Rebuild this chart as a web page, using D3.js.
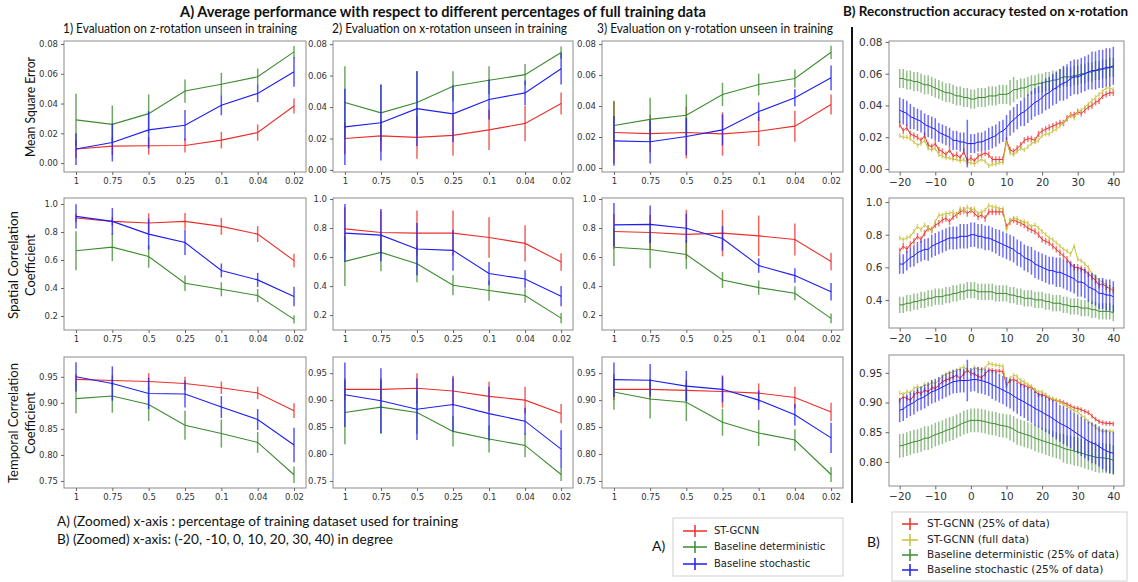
<!DOCTYPE html>
<html>
<head>
<meta charset="utf-8">
<script src="https://cdn.jsdelivr.net/npm/d3@7"></script>
<style>
	body { margin: 0; background: #fff; }
	svg { display: block; }
	.tick text { fill: #333; }
</style>
</head>
<body>
<div id="chart"></div>
<script>
// ---------- A) performance vs. fraction of training data ----------
const fractions = ['1', '0.75', '0.5', '0.25', '0.1', '0.04', '0.02']

// Mean square error
const mseZ_st = [0.0094, 0.0114, 0.0116, 0.0118, 0.0154, 0.0205, 0.0383]
const mseZ_stErr = [0.006, 0.006, 0.006, 0.0047, 0.0056, 0.0055, 0.005]
const mseZ_det = [0.029, 0.026, 0.0332, 0.0484, 0.053, 0.058, 0.0747]
const mseZ_detErr = [0.0176, 0.0127, 0.0129, 0.0078, 0.0076, 0.0055, 0.0039]
const mseZ_sto = [0.0094, 0.0138, 0.0223, 0.0254, 0.0388, 0.0468, 0.0613]
const mseZ_stoErr = [0.0107, 0.0127, 0.0125, 0.0103, 0.0067, 0.0059, 0.01]

const mseX_st = [0.02, 0.0217, 0.0207, 0.022, 0.0255, 0.0296, 0.0422]
const mseX_stErr = [0.01, 0.01, 0.0135, 0.013, 0.0128, 0.0113, 0.007]
const mseX_det = [0.0429, 0.0363, 0.0429, 0.0532, 0.057, 0.0606, 0.0747]
const mseX_detErr = [0.023, 0.0184, 0.02, 0.0095, 0.0089, 0.0067, 0.0038]
const mseX_sto = [0.0274, 0.03, 0.039, 0.0357, 0.0448, 0.049, 0.0644]
const mseX_stoErr = [0.0243, 0.024, 0.0237, 0.018, 0.0127, 0.0079, 0.01]

const mseY_st = [0.0229, 0.0222, 0.0229, 0.022, 0.0237, 0.027, 0.041]
const mseY_stErr = [0.02, 0.012, 0.0167, 0.014, 0.0095, 0.01, 0.0064]
const mseY_det = [0.0274, 0.0314, 0.034, 0.0475, 0.0539, 0.0578, 0.0747]
const mseY_detErr = [0.016, 0.014, 0.0135, 0.0075, 0.007, 0.0058, 0.0043]
const mseY_sto = [0.0175, 0.0169, 0.0203, 0.0246, 0.0364, 0.0453, 0.0582]
const mseY_stoErr = [0.016, 0.014, 0.012, 0.01, 0.006, 0.0055, 0.008]

// Spatial correlation coefficient
const scZ_st = [0.9, 0.876, 0.864, 0.876, 0.84, 0.785, 0.596]
const scZ_stErr = [0.03, 0.03, 0.07, 0.06, 0.06, 0.057, 0.048]
const scZ_det = [0.666, 0.692, 0.625, 0.434, 0.391, 0.346, 0.176]
const scZ_detErr = [0.14, 0.1, 0.08, 0.056, 0.05, 0.047, 0.03]
const scZ_sto = [0.912, 0.876, 0.785, 0.725, 0.525, 0.458, 0.339]
const scZ_stoErr = [0.086, 0.095, 0.11, 0.09, 0.05, 0.05, 0.07]

const scX_st = [0.794, 0.769, 0.765, 0.765, 0.735, 0.694, 0.566]
const scX_stErr = [0.15, 0.15, 0.155, 0.155, 0.14, 0.125, 0.06]
const scX_det = [0.57, 0.632, 0.554, 0.406, 0.369, 0.335, 0.179]
const scX_detErr = [0.17, 0.13, 0.128, 0.07, 0.07, 0.05, 0.035]
const scX_sto = [0.765, 0.751, 0.655, 0.646, 0.486, 0.449, 0.33]
const scX_stoErr = [0.2, 0.18, 0.18, 0.14, 0.08, 0.06, 0.07]

const scY_st = [0.776, 0.769, 0.756, 0.765, 0.746, 0.721, 0.569]
const scY_stErr = [0.12, 0.12, 0.17, 0.16, 0.14, 0.11, 0.06]
const scY_det = [0.668, 0.652, 0.617, 0.442, 0.389, 0.35, 0.177]
const scY_detErr = [0.13, 0.13, 0.1, 0.055, 0.05, 0.048, 0.033]
const scY_sto = [0.822, 0.825, 0.799, 0.728, 0.541, 0.472, 0.361]
const scY_stoErr = [0.15, 0.13, 0.1, 0.085, 0.05, 0.05, 0.06]

// Temporal correlation coefficient
const tcZ_st = [0.945, 0.943, 0.941, 0.937, 0.929, 0.919, 0.885]
const tcZ_stErr = [0.01, 0.01, 0.016, 0.013, 0.012, 0.012, 0.014]
const tcZ_det = [0.908, 0.913, 0.897, 0.857, 0.841, 0.824, 0.762]
const tcZ_detErr = [0.028, 0.032, 0.032, 0.028, 0.027, 0.02, 0.016]
const tcZ_sto = [0.95, 0.937, 0.918, 0.917, 0.892, 0.868, 0.819]
const tcZ_stoErr = [0.028, 0.033, 0.03, 0.026, 0.021, 0.02, 0.033]

const tcX_st = [0.92, 0.92, 0.922, 0.917, 0.907, 0.9, 0.875]
const tcX_stErr = [0.02, 0.02, 0.028, 0.028, 0.027, 0.025, 0.018]
const tcX_det = [0.877, 0.887, 0.877, 0.842, 0.828, 0.816, 0.762]
const tcX_detErr = [0.059, 0.05, 0.04, 0.028, 0.025, 0.022, 0.012]
const tcX_sto = [0.91, 0.899, 0.883, 0.892, 0.875, 0.861, 0.809]
const tcX_stoErr = [0.06, 0.06, 0.057, 0.05, 0.05, 0.025, 0.035]

const tcY_st = [0.92, 0.92, 0.918, 0.916, 0.913, 0.905, 0.878]
const tcY_stErr = [0.02, 0.02, 0.02, 0.03, 0.018, 0.02, 0.017]
const tcY_det = [0.915, 0.902, 0.896, 0.859, 0.839, 0.826, 0.762]
const tcY_detErr = [0.033, 0.036, 0.035, 0.025, 0.024, 0.02, 0.014]
const tcY_sto = [0.938, 0.937, 0.926, 0.92, 0.9, 0.873, 0.83]
const tcY_stoErr = [0.032, 0.03, 0.028, 0.024, 0.018, 0.02, 0.028]

// ---------- B) reconstruction accuracy vs. x-rotation (degrees) ----------
const degrees = [-20, -19, -18, -17, -16, -15, -14, -13, -12, -11,
	-10, -9, -8, -7, -6, -5, -4, -3, -2, -1,
	0, 1, 2, 3, 4, 5, 6, 7, 8, 9,
	10, 11, 12, 13, 14, 15, 16, 17, 18, 19,
	20, 21, 22, 23, 24, 25, 26, 27, 28, 29,
	30, 31, 32, 33, 34, 35, 36, 37, 38, 39, 40]

const bMse_st = [0.028, 0.024, 0.026, 0.022, 0.021, 0.02, 0.018, 0.021, 0.015, 0.014,
	0.016, 0.012, 0.011, 0.009, 0.012, 0.008, 0.009, 0.007, 0.011, 0.005,
	0.007, 0.005, 0.008, 0.009, 0.01, 0.009, 0.006, 0.006, 0.006, 0.006,
	0.018, 0.012, 0.011, 0.013, 0.015, 0.018, 0.019, 0.019, 0.018, 0.022,
	0.024, 0.025, 0.026, 0.027, 0.028, 0.029, 0.029, 0.032, 0.034, 0.034,
	0.036, 0.035, 0.037, 0.039, 0.04, 0.042, 0.043, 0.046, 0.047, 0.048, 0.048]
const bMse_stErr = [0.002, 0.002, 0.002, 0.002, 0.002, 0.002, 0.002, 0.002, 0.002, 0.002,
	0.002, 0.002, 0.002, 0.002, 0.002, 0.002, 0.002, 0.002, 0.002, 0.002,
	0.002, 0.002, 0.002, 0.002, 0.002, 0.002, 0.002, 0.002, 0.002, 0.002,
	0.002, 0.002, 0.002, 0.002, 0.002, 0.002, 0.002, 0.002, 0.002, 0.002,
	0.002, 0.002, 0.002, 0.002, 0.002, 0.002, 0.002, 0.002, 0.002, 0.002,
	0.002, 0.002, 0.002, 0.002, 0.002, 0.002, 0.002, 0.002, 0.002, 0.002, 0.002]
const bMse_full = [0.021, 0.02, 0.02, 0.019, 0.017, 0.015, 0.016, 0.018, 0.013, 0.012,
	0.013, 0.009, 0.008, 0.007, 0.007, 0.006, 0.006, 0.005, 0.006, 0.004,
	0.004, 0.003, 0.005, 0.006, 0.005, 0.002, 0.003, 0.003, 0.004, 0.004,
	0.017, 0.01, 0.009, 0.011, 0.013, 0.012, 0.014, 0.016, 0.017, 0.018,
	0.021, 0.022, 0.022, 0.024, 0.025, 0.027, 0.029, 0.031, 0.034, 0.032,
	0.036, 0.037, 0.039, 0.041, 0.043, 0.045, 0.047, 0.049, 0.051, 0.051, 0.05]
const bMse_fullErr = [0.0015, 0.0015, 0.0015, 0.0015, 0.0015, 0.0015, 0.0015, 0.0015, 0.0015, 0.0015,
	0.0015, 0.0015, 0.0015, 0.0015, 0.0015, 0.0015, 0.0015, 0.0015, 0.0015, 0.0015,
	0.0015, 0.0015, 0.0015, 0.0015, 0.0015, 0.0015, 0.0015, 0.0015, 0.0015, 0.0015,
	0.0015, 0.0015, 0.0015, 0.0015, 0.0015, 0.0015, 0.0015, 0.0015, 0.0015, 0.0015,
	0.0015, 0.0015, 0.0015, 0.0015, 0.0015, 0.0015, 0.0015, 0.0015, 0.0015, 0.0015,
	0.0015, 0.0015, 0.0015, 0.0015, 0.0015, 0.0015, 0.0015, 0.0015, 0.0015, 0.0015, 0.0015]
const bMse_det = [0.057, 0.057, 0.056, 0.056, 0.055, 0.055, 0.054, 0.053, 0.053, 0.052,
	0.051, 0.05, 0.049, 0.048, 0.048, 0.047, 0.046, 0.046, 0.045, 0.045,
	0.044, 0.044, 0.045, 0.045, 0.045, 0.046, 0.046, 0.046, 0.047, 0.047,
	0.047, 0.048, 0.05, 0.05, 0.051, 0.051, 0.052, 0.053, 0.053, 0.054,
	0.054, 0.055, 0.055, 0.056, 0.056, 0.057, 0.058, 0.058, 0.058, 0.059,
	0.059, 0.06, 0.06, 0.061, 0.061, 0.062, 0.062, 0.063, 0.063, 0.064, 0.064]
const bMse_detErr = [0.006, 0.006, 0.006, 0.006, 0.006, 0.006, 0.006, 0.006, 0.006, 0.006,
	0.006, 0.006, 0.006, 0.006, 0.006, 0.006, 0.006, 0.006, 0.006, 0.006,
	0.006, 0.006, 0.006, 0.006, 0.006, 0.006, 0.006, 0.006, 0.006, 0.006,
	0.006, 0.008, 0.008, 0.006, 0.006, 0.006, 0.006, 0.006, 0.006, 0.006,
	0.006, 0.006, 0.006, 0.006, 0.006, 0.006, 0.006, 0.006, 0.006, 0.006,
	0.006, 0.006, 0.006, 0.006, 0.006, 0.006, 0.006, 0.006, 0.006, 0.006, 0.006]
const bMse_sto = [0.037, 0.036, 0.035, 0.033, 0.032, 0.031, 0.03, 0.028, 0.027, 0.026,
	0.025, 0.023, 0.022, 0.021, 0.02, 0.018, 0.018, 0.017, 0.017, 0.016,
	0.016, 0.016, 0.017, 0.017, 0.018, 0.019, 0.02, 0.021, 0.023, 0.024,
	0.026, 0.029, 0.031, 0.033, 0.035, 0.036, 0.038, 0.04, 0.042, 0.043,
	0.045, 0.047, 0.048, 0.05, 0.051, 0.053, 0.054, 0.055, 0.057, 0.058,
	0.058, 0.059, 0.06, 0.061, 0.062, 0.062, 0.063, 0.063, 0.064, 0.064, 0.065]
const bMse_stoErr = [0.008, 0.008, 0.008, 0.008, 0.007, 0.007, 0.007, 0.007, 0.007, 0.007,
	0.007, 0.006, 0.006, 0.006, 0.006, 0.006, 0.006, 0.006, 0.006, 0.015,
	0.006, 0.006, 0.006, 0.006, 0.006, 0.007, 0.007, 0.007, 0.007, 0.007,
	0.008, 0.008, 0.008, 0.008, 0.008, 0.009, 0.009, 0.009, 0.009, 0.009,
	0.01, 0.01, 0.01, 0.01, 0.01, 0.01, 0.011, 0.011, 0.011, 0.011,
	0.011, 0.011, 0.011, 0.011, 0.012, 0.012, 0.012, 0.012, 0.012, 0.012, 0.012]

const bSc_st = [0.7, 0.73, 0.71, 0.74, 0.76, 0.79, 0.77, 0.81, 0.84, 0.83,
	0.86, 0.87, 0.89, 0.9, 0.88, 0.91, 0.92, 0.94, 0.95, 0.93,
	0.95, 0.93, 0.91, 0.92, 0.9, 0.94, 0.94, 0.94, 0.94, 0.94,
	0.85, 0.88, 0.89, 0.88, 0.87, 0.86, 0.84, 0.83, 0.82, 0.8,
	0.77, 0.76, 0.75, 0.73, 0.71, 0.69, 0.67, 0.65, 0.62, 0.6,
	0.6, 0.59, 0.58, 0.56, 0.54, 0.52, 0.49, 0.5, 0.48, 0.47, 0.46]
const bSc_stErr = [0.02, 0.02, 0.02, 0.02, 0.02, 0.02, 0.02, 0.02, 0.02, 0.02,
	0.02, 0.02, 0.02, 0.02, 0.02, 0.02, 0.02, 0.02, 0.02, 0.02,
	0.02, 0.02, 0.02, 0.02, 0.02, 0.02, 0.02, 0.02, 0.02, 0.02,
	0.02, 0.02, 0.02, 0.02, 0.02, 0.02, 0.02, 0.02, 0.02, 0.02,
	0.02, 0.02, 0.02, 0.02, 0.02, 0.02, 0.02, 0.02, 0.02, 0.02,
	0.02, 0.02, 0.02, 0.02, 0.02, 0.02, 0.02, 0.02, 0.02, 0.02, 0.02]
const bSc_full = [0.78, 0.77, 0.78, 0.79, 0.82, 0.85, 0.83, 0.86, 0.84, 0.82,
	0.88, 0.92, 0.92, 0.93, 0.93, 0.94, 0.92, 0.96, 0.94, 0.97,
	0.95, 0.96, 0.93, 0.94, 0.95, 0.98, 0.97, 0.97, 0.96, 0.96,
	0.83, 0.89, 0.9, 0.9, 0.88, 0.88, 0.87, 0.85, 0.86, 0.84,
	0.82, 0.8, 0.78, 0.77, 0.75, 0.73, 0.71, 0.7, 0.68, 0.73,
	0.65, 0.64, 0.62, 0.6, 0.56, 0.54, 0.52, 0.51, 0.49, 0.47, 0.46]
const bSc_fullErr = [0.015, 0.015, 0.015, 0.015, 0.015, 0.015, 0.015, 0.015, 0.015, 0.015,
	0.015, 0.015, 0.015, 0.015, 0.015, 0.015, 0.015, 0.015, 0.015, 0.015,
	0.015, 0.015, 0.015, 0.015, 0.015, 0.015, 0.015, 0.015, 0.015, 0.015,
	0.015, 0.015, 0.015, 0.015, 0.015, 0.015, 0.015, 0.015, 0.015, 0.015,
	0.015, 0.015, 0.015, 0.015, 0.015, 0.015, 0.015, 0.015, 0.015, 0.015,
	0.015, 0.015, 0.015, 0.015, 0.015, 0.015, 0.015, 0.015, 0.015, 0.015, 0.015]
const bSc_det = [0.37, 0.37, 0.38, 0.38, 0.39, 0.39, 0.4, 0.4, 0.41, 0.41,
	0.42, 0.42, 0.42, 0.43, 0.43, 0.44, 0.44, 0.45, 0.45, 0.46,
	0.46, 0.46, 0.45, 0.45, 0.45, 0.45, 0.45, 0.44, 0.44, 0.44,
	0.44, 0.43, 0.43, 0.42, 0.42, 0.41, 0.41, 0.41, 0.4, 0.4,
	0.4, 0.39, 0.39, 0.38, 0.38, 0.38, 0.37, 0.37, 0.36, 0.36,
	0.36, 0.35, 0.35, 0.35, 0.34, 0.34, 0.33, 0.33, 0.33, 0.33, 0.32]
const bSc_detErr = [0.05, 0.05, 0.05, 0.05, 0.05, 0.05, 0.05, 0.05, 0.05, 0.05,
	0.05, 0.05, 0.05, 0.05, 0.05, 0.05, 0.05, 0.05, 0.05, 0.05,
	0.05, 0.05, 0.05, 0.05, 0.05, 0.05, 0.05, 0.05, 0.05, 0.05,
	0.05, 0.05, 0.05, 0.05, 0.05, 0.05, 0.05, 0.05, 0.05, 0.05,
	0.05, 0.05, 0.05, 0.05, 0.05, 0.05, 0.05, 0.05, 0.05, 0.05,
	0.05, 0.05, 0.05, 0.05, 0.05, 0.05, 0.05, 0.05, 0.05, 0.05, 0.05]
const bSc_sto = [0.62, 0.62, 0.64, 0.66, 0.67, 0.69, 0.7, 0.71, 0.71, 0.73,
	0.74, 0.75, 0.76, 0.77, 0.78, 0.78, 0.78, 0.79, 0.79, 0.79,
	0.8, 0.8, 0.79, 0.79, 0.78, 0.78, 0.77, 0.76, 0.75, 0.74,
	0.73, 0.72, 0.71, 0.69, 0.68, 0.66, 0.65, 0.64, 0.62, 0.61,
	0.6, 0.59, 0.58, 0.58, 0.57, 0.57, 0.56, 0.55, 0.54, 0.53,
	0.51, 0.51, 0.5, 0.48, 0.47, 0.46, 0.44, 0.44, 0.43, 0.43, 0.42]
const bSc_stoErr = [0.06, 0.06, 0.06, 0.06, 0.065, 0.065, 0.065, 0.065, 0.07, 0.07,
	0.07, 0.07, 0.07, 0.07, 0.07, 0.07, 0.07, 0.075, 0.075, 0.075,
	0.075, 0.075, 0.075, 0.075, 0.075, 0.075, 0.075, 0.075, 0.08, 0.08,
	0.08, 0.08, 0.08, 0.08, 0.08, 0.08, 0.08, 0.085, 0.085, 0.085,
	0.085, 0.085, 0.085, 0.085, 0.09, 0.09, 0.09, 0.09, 0.09, 0.09,
	0.09, 0.09, 0.09, 0.09, 0.095, 0.095, 0.095, 0.095, 0.095, 0.095, 0.095]

const bTc_st = [0.904, 0.91, 0.907, 0.904, 0.912, 0.918, 0.915, 0.921, 0.918, 0.925,
	0.924, 0.929, 0.935, 0.938, 0.94, 0.943, 0.946, 0.94, 0.949, 0.954,
	0.949, 0.948, 0.944, 0.942, 0.948, 0.955, 0.954, 0.953, 0.953, 0.952,
	0.929, 0.937, 0.939, 0.936, 0.931, 0.929, 0.926, 0.925, 0.92, 0.913,
	0.913, 0.911, 0.907, 0.905, 0.903, 0.902, 0.9, 0.897, 0.894, 0.891,
	0.89, 0.888, 0.885, 0.883, 0.877, 0.872, 0.868, 0.866, 0.865, 0.865, 0.864]
const bTc_stErr = [0.004, 0.004, 0.004, 0.004, 0.004, 0.004, 0.004, 0.004, 0.004, 0.004,
	0.004, 0.004, 0.004, 0.004, 0.004, 0.004, 0.004, 0.004, 0.004, 0.004,
	0.004, 0.004, 0.004, 0.004, 0.004, 0.004, 0.004, 0.004, 0.004, 0.004,
	0.004, 0.004, 0.004, 0.004, 0.004, 0.004, 0.004, 0.004, 0.004, 0.004,
	0.004, 0.004, 0.004, 0.004, 0.004, 0.004, 0.004, 0.004, 0.004, 0.004,
	0.004, 0.004, 0.004, 0.004, 0.004, 0.004, 0.004, 0.004, 0.004, 0.004, 0.004]
const bTc_full = [0.916, 0.914, 0.918, 0.917, 0.924, 0.927, 0.924, 0.931, 0.928, 0.934,
	0.932, 0.938, 0.944, 0.948, 0.95, 0.951, 0.954, 0.957, 0.96, 0.955,
	0.952, 0.959, 0.956, 0.955, 0.958, 0.966, 0.964, 0.963, 0.962, 0.961,
	0.929, 0.941, 0.946, 0.944, 0.937, 0.935, 0.93, 0.927, 0.921, 0.918,
	0.918, 0.913, 0.909, 0.906, 0.904, 0.901, 0.897, 0.893, 0.89, 0.886,
	0.885, 0.878, 0.875, 0.868, 0.864, 0.858, 0.854, 0.851, 0.852, 0.852, 0.851]
const bTc_fullErr = [0.004, 0.004, 0.004, 0.004, 0.004, 0.004, 0.004, 0.004, 0.004, 0.004,
	0.004, 0.004, 0.004, 0.004, 0.004, 0.004, 0.004, 0.004, 0.004, 0.004,
	0.004, 0.004, 0.004, 0.004, 0.004, 0.004, 0.004, 0.004, 0.004, 0.004,
	0.004, 0.004, 0.004, 0.004, 0.004, 0.004, 0.004, 0.004, 0.004, 0.004,
	0.004, 0.004, 0.004, 0.004, 0.004, 0.004, 0.004, 0.004, 0.004, 0.004,
	0.004, 0.004, 0.004, 0.004, 0.004, 0.004, 0.004, 0.004, 0.004, 0.004, 0.004]
const bTc_det = [0.827, 0.828, 0.83, 0.832, 0.834, 0.835, 0.837, 0.84, 0.84, 0.843,
	0.846, 0.848, 0.85, 0.853, 0.855, 0.857, 0.86, 0.863, 0.866, 0.868,
	0.87, 0.87, 0.87, 0.869, 0.868, 0.866, 0.865, 0.864, 0.862, 0.861,
	0.86, 0.858, 0.855, 0.851, 0.849, 0.847, 0.845, 0.843, 0.84, 0.838,
	0.836, 0.834, 0.832, 0.83, 0.828, 0.826, 0.823, 0.821, 0.82, 0.818,
	0.817, 0.815, 0.813, 0.811, 0.81, 0.808, 0.807, 0.807, 0.806, 0.805, 0.803]
const bTc_detErr = [0.02, 0.02, 0.02, 0.02, 0.02, 0.02, 0.02, 0.02, 0.02, 0.02,
	0.02, 0.02, 0.02, 0.02, 0.02, 0.02, 0.02, 0.02, 0.02, 0.02,
	0.02, 0.02, 0.02, 0.02, 0.02, 0.02, 0.02, 0.02, 0.02, 0.02,
	0.02, 0.022, 0.022, 0.022, 0.022, 0.022, 0.022, 0.022, 0.022, 0.022,
	0.022, 0.022, 0.022, 0.022, 0.022, 0.022, 0.024, 0.024, 0.024, 0.024,
	0.024, 0.024, 0.024, 0.024, 0.025, 0.025, 0.025, 0.025, 0.025, 0.025, 0.025]
const bTc_sto = [0.887, 0.889, 0.894, 0.897, 0.9, 0.905, 0.907, 0.91, 0.914, 0.918,
	0.92, 0.923, 0.926, 0.929, 0.932, 0.935, 0.936, 0.937, 0.937, 0.937,
	0.938, 0.939, 0.938, 0.937, 0.935, 0.933, 0.93, 0.927, 0.924, 0.921,
	0.918, 0.915, 0.911, 0.907, 0.904, 0.901, 0.897, 0.894, 0.89, 0.887,
	0.884, 0.88, 0.877, 0.873, 0.869, 0.865, 0.862, 0.859, 0.855, 0.851,
	0.847, 0.843, 0.839, 0.835, 0.832, 0.83, 0.826, 0.822, 0.819, 0.816, 0.815]
const bTc_stoErr = [0.02, 0.02, 0.02, 0.02, 0.02, 0.02, 0.02, 0.02, 0.02, 0.02,
	0.02, 0.02, 0.02, 0.02, 0.02, 0.02, 0.02, 0.02, 0.02, 0.035,
	0.02, 0.02, 0.022, 0.022, 0.022, 0.022, 0.024, 0.024, 0.024, 0.024,
	0.025, 0.025, 0.026, 0.026, 0.027, 0.027, 0.028, 0.028, 0.029, 0.029,
	0.03, 0.03, 0.03, 0.031, 0.031, 0.031, 0.032, 0.032, 0.032, 0.032,
	0.033, 0.033, 0.033, 0.033, 0.034, 0.034, 0.034, 0.034, 0.035, 0.035, 0.035]

// tick labels
const mseTicks = [0, 0.02, 0.04, 0.06, 0.08]
const scTicks = [0.2, 0.4, 0.6, 0.8, 1.0]
const scTicksB = [0.4, 0.6, 0.8, 1.0]
const tcTicks = [0.75, 0.8, 0.85, 0.9, 0.95]
const tcTicksB = [0.8, 0.85, 0.9, 0.95]
const degreeTicks = [-20, -10, 0, 10, 20, 30, 40]

const seriesNames = ['ST-GCNN', 'Baseline deterministic', 'Baseline stochastic']
const seriesNamesB = ['ST-GCNN (25% of data)', 'ST-GCNN (full data)', 'Baseline deterministic (25% of data)', 'Baseline stochastic (25% of data)']

const colors = { st: '#ea2f2b', full: '#c6c23a', det: '#3c8b2e', sto: '#1e1ef2' }
const tickFont = 'DejaVu Sans, sans-serif'
const textFont = 'Lato, sans-serif'

const svgWidth = 1138
const svgHeight = 582

const svg = d3
	.select('#chart')
	.append('svg')
	.attr('width', svgWidth)
	.attr('height', svgHeight)

svg.append('rect').attr('width', svgWidth).attr('height', svgHeight).attr('fill', '#fff')

// panel boxes (pixel frames)
const colsA = [[64, 306], [333, 573], [602, 843]]
const rowsA = [[41, 172], [198, 330], [357, 488]]
const colB = [889, 1124]
const rowsB = [[41, 172], [198, 328], [355, 486]]

const panelsA = [
	{ row: 0, col: 0, dom: [-0.006, 0.082], ticks: mseTicks, fmt: '.2f', s: [[mseZ_st, mseZ_stErr, 'st'], [mseZ_det, mseZ_detErr, 'det'], [mseZ_sto, mseZ_stoErr, 'sto']] },
	{ row: 0, col: 1, dom: [-0.0013, 0.082], ticks: mseTicks, fmt: '.2f', s: [[mseX_st, mseX_stErr, 'st'], [mseX_det, mseX_detErr, 'det'], [mseX_sto, mseX_stoErr, 'sto']] },
	{ row: 0, col: 2, dom: [-0.0026, 0.082], ticks: mseTicks, fmt: '.2f', s: [[mseY_st, mseY_stErr, 'st'], [mseY_det, mseY_detErr, 'det'], [mseY_sto, mseY_stoErr, 'sto']] },
	{ row: 1, col: 0, dom: [0.1, 1.043], ticks: scTicks, fmt: '.1f', s: [[scZ_st, scZ_stErr, 'st'], [scZ_det, scZ_detErr, 'det'], [scZ_sto, scZ_stoErr, 'sto']] },
	{ row: 1, col: 1, dom: [0.097, 1.007], ticks: scTicks, fmt: '.1f', s: [[scX_st, scX_stErr, 'st'], [scX_det, scX_detErr, 'det'], [scX_sto, scX_stoErr, 'sto']] },
	{ row: 1, col: 2, dom: [0.097, 1.007], ticks: scTicks, fmt: '.1f', s: [[scY_st, scY_stErr, 'st'], [scY_det, scY_detErr, 'det'], [scY_sto, scY_stoErr, 'sto']] },
	{ row: 2, col: 0, dom: [0.7365, 0.988], ticks: tcTicks, fmt: '.2f', s: [[tcZ_st, tcZ_stErr, 'st'], [tcZ_det, tcZ_detErr, 'det'], [tcZ_sto, tcZ_stoErr, 'sto']] },
	{ row: 2, col: 1, dom: [0.737, 0.98], ticks: tcTicks, fmt: '.2f', s: [[tcX_st, tcX_stErr, 'st'], [tcX_det, tcX_detErr, 'det'], [tcX_sto, tcX_stoErr, 'sto']] },
	{ row: 2, col: 2, dom: [0.737, 0.98], ticks: tcTicks, fmt: '.2f', s: [[tcY_st, tcY_stErr, 'st'], [tcY_det, tcY_detErr, 'det'], [tcY_sto, tcY_stoErr, 'sto']] },
]

const panelsB = [
	{ row: 0, dom: [-0.0019, 0.0806], ticks: mseTicks, fmt: '.2f', s: [[bMse_st, bMse_stErr, 'st'], [bMse_full, bMse_fullErr, 'full'], [bMse_det, bMse_detErr, 'det'], [bMse_sto, bMse_stoErr, 'sto']] },
	{ row: 1, dom: [0.228, 1.025], ticks: scTicksB, fmt: '.1f', s: [[bSc_st, bSc_stErr, 'st'], [bSc_full, bSc_fullErr, 'full'], [bSc_det, bSc_detErr, 'det'], [bSc_sto, bSc_stoErr, 'sto']] },
	{ row: 2, dom: [0.7595, 0.98], ticks: tcTicksB, fmt: '.2f', s: [[bTc_st, bTc_stErr, 'st'], [bTc_full, bTc_fullErr, 'full'], [bTc_det, bTc_detErr, 'det'], [bTc_sto, bTc_stoErr, 'sto']] },
]

function styleAxis(ax, size) {
	ax.select('.domain').remove()
	ax.selectAll('.tick line').attr('stroke', '#666')
	ax.selectAll('.tick text').attr('font-family', tickFont).attr('font-size', size)
}

function drawSeries(g, xs, x, y, vals, errs, key, lw, barAlpha) {
	const pts = vals.map((v, i) => ({ x: xs[i], v: v, e: errs[i] }))
	g.selectAll(null)
		.data(pts)
		.enter()
		.append('line')
		.attr('x1', (d) => x(d.x))
		.attr('x2', (d) => x(d.x))
		.attr('y1', (d) => y(d.v - d.e))
		.attr('y2', (d) => y(d.v + d.e))
		.attr('stroke', colors[key])
		.attr('stroke-opacity', barAlpha)
		.attr('stroke-width', 1.5)
	const line = d3
		.line()
		.x((d) => x(d.x))
		.y((d) => y(d.v))
	g.append('path')
		.datum(pts)
		.attr('fill', 'none')
		.attr('stroke', colors[key])
		.attr('stroke-width', lw)
		.attr('d', line)
}

function drawFrame(g, x0, x1, y0, y1) {
	g.append('rect')
		.attr('x', x0)
		.attr('y', y0)
		.attr('width', x1 - x0)
		.attr('height', y1 - y0)
		.attr('fill', 'none')
		.attr('stroke', '#8c8c8c')
		.attr('stroke-width', 1)
}

// A panels
panelsA.forEach((p) => {
	const [x0, x1] = colsA[p.col]
	const [y0, y1] = rowsA[p.row]
	const g = svg.append('g')
	const x = d3.scalePoint().domain(fractions).range([x0, x1]).padding(0.33)
	const y = d3.scaleLinear().domain(p.dom).range([y1, y0])
	const clipId = `clipA${p.row}${p.col}`
	g.append('clipPath').attr('id', clipId).append('rect').attr('x', x0).attr('y', y0).attr('width', x1 - x0).attr('height', y1 - y0)
	const inner = g.append('g').attr('clip-path', `url(#${clipId})`)
	p.s.forEach(([vals, errs, key]) => drawSeries(inner, fractions, x, y, vals, errs, key, 1.1, 0.75))
	drawFrame(g, x0, x1, y0, y1)
	const ax = g.append('g')
		.attr('transform', `translate(0,${y1})`)
		.call(d3.axisBottom(x).tickSize(3).tickPadding(3))
	styleAxis(ax, 8.5)
	const ay = g.append('g')
		.attr('transform', `translate(${x0},0)`)
		.call(d3.axisLeft(y).tickValues(p.ticks).tickFormat(d3.format(p.fmt)).tickSize(3).tickPadding(3))
	styleAxis(ay, 8.5)
})

// B panels
panelsB.forEach((p) => {
	const [x0, x1] = colB
	const [y0, y1] = rowsB[p.row]
	const g = svg.append('g')
	const x = d3.scaleLinear().domain([-23, 43]).range([x0, x1])
	const y = d3.scaleLinear().domain(p.dom).range([y1, y0])
	const clipId = `clipB${p.row}`
	g.append('clipPath').attr('id', clipId).append('rect').attr('x', x0).attr('y', y0).attr('width', x1 - x0).attr('height', y1 - y0)
	const inner = g.append('g').attr('clip-path', `url(#${clipId})`)
	p.s.forEach(([vals, errs, key]) => drawSeries(inner, degrees, x, y, vals, errs, key, 1, key === 'det' ? 0.55 : 0.65))
	drawFrame(g, x0, x1, y0, y1)
	const ax = g.append('g')
		.attr('transform', `translate(0,${y1})`)
		.call(d3.axisBottom(x).tickValues(degreeTicks).tickFormat((d) => (d < 0 ? '\u2212' + Math.abs(d) : d)).tickSize(3.5).tickPadding(3))
	styleAxis(ax, 10.5)
	const ay = g.append('g')
		.attr('transform', `translate(${x0},0)`)
		.call(d3.axisLeft(y).tickValues(p.ticks).tickFormat(d3.format(p.fmt)).tickSize(3.5).tickPadding(3))
	styleAxis(ay, 10.5)
})

// titles
function addText(x, y, str, size, opts = {}) {
	const t = svg.append('text')
		.attr('x', x)
		.attr('y', y)
		.attr('font-family', opts.font || textFont)
		.attr('font-size', size)
		.attr('font-weight', opts.bold ? 'bold' : 'normal')
		.attr('fill', '#111')
		.attr('text-anchor', opts.anchor || 'start')
		.attr('dominant-baseline', 'middle')
		.text(str)
	if (opts.len) t.attr('textLength', opts.len).attr('lengthAdjust', 'spacingAndGlyphs')
	if (opts.rotate) t.attr('transform', `rotate(-90,${x},${y})`)
	return t
}

addText(180, 13, 'A) Average performance with respect to different percentages of full training data', 14.5, { bold: true, len: 526 })
addText(1128, 13, 'B) Reconstruction accuracy tested on x-rotation', 13, { bold: true, anchor: 'end', len: 285 })
addText(63, 30, '1) Evaluation on z-rotation unseen in training', 13.5, { len: 234 })
addText(332, 30, '2) Evaluation on x-rotation unseen in training', 13.5, { len: 235 })
addText(597, 30, '3) Evaluation on y-rotation unseen in training', 13.5, { len: 236 })

addText(32, 107, 'Mean Square Error', 13, { anchor: 'middle', rotate: true, len: 100 })
addText(15, 265, 'Spatial Correlation', 13, { anchor: 'middle', rotate: true, len: 108 })
addText(32, 265, 'Coefficient', 13, { anchor: 'middle', rotate: true, len: 62 })
addText(15, 423, 'Temporal Correlation', 13, { anchor: 'middle', rotate: true, len: 120 })
addText(32, 423, 'Coefficient', 13, { anchor: 'middle', rotate: true, len: 62 })

addText(57, 522, 'A) (Zoomed) x-axis : percentage of training dataset used for training', 14, { len: 401 })
addText(57, 540, 'B) (Zoomed) x-axis: (-20, -10, 0, 10, 20, 30, 40) in degree', 14, { len: 336 })

// separator
svg.append('line')
	.attr('x1', 852).attr('x2', 852)
	.attr('y1', 27).attr('y2', 503)
	.attr('stroke', '#111').attr('stroke-width', 2)

// legends
function drawLegend(x0, y0, w, h, names, keys, rowY, mark0, textX, size) {
	const g = svg.append('g')
	g.append('rect')
		.attr('x', x0).attr('y', y0).attr('width', w).attr('height', h)
		.attr('fill', '#fff').attr('stroke', '#d0d0d0')
	names.forEach((n, i) => {
		const yy = rowY[i]
		g.append('line')
			.attr('x1', mark0[0]).attr('x2', mark0[1]).attr('y1', yy).attr('y2', yy)
			.attr('stroke', colors[keys[i]]).attr('stroke-width', 1.5)
		const mid = (mark0[0] + mark0[1]) / 2
		g.append('line')
			.attr('x1', mid).attr('x2', mid).attr('y1', yy - 6).attr('y2', yy + 6)
			.attr('stroke', colors[keys[i]]).attr('stroke-width', 1.5)
		g.append('text')
			.attr('x', textX).attr('y', yy)
			.attr('dominant-baseline', 'middle')
			.attr('font-family', tickFont)
			.attr('font-size', size)
			.attr('fill', '#222')
			.text(n)
	})
}

drawLegend(673, 518, 170, 58, seriesNames, ['st', 'det', 'sto'], [531, 547, 564], [683, 707], 714, 10)
addText(652, 547, 'A)', 14)
drawLegend(892, 512, 235, 69, seriesNamesB, ['st', 'full', 'det', 'sto'], [524, 540, 555, 570], [902, 918], 927, 10.5)
addText(867, 543, 'B)', 14)
</script>
</body>
</html>
